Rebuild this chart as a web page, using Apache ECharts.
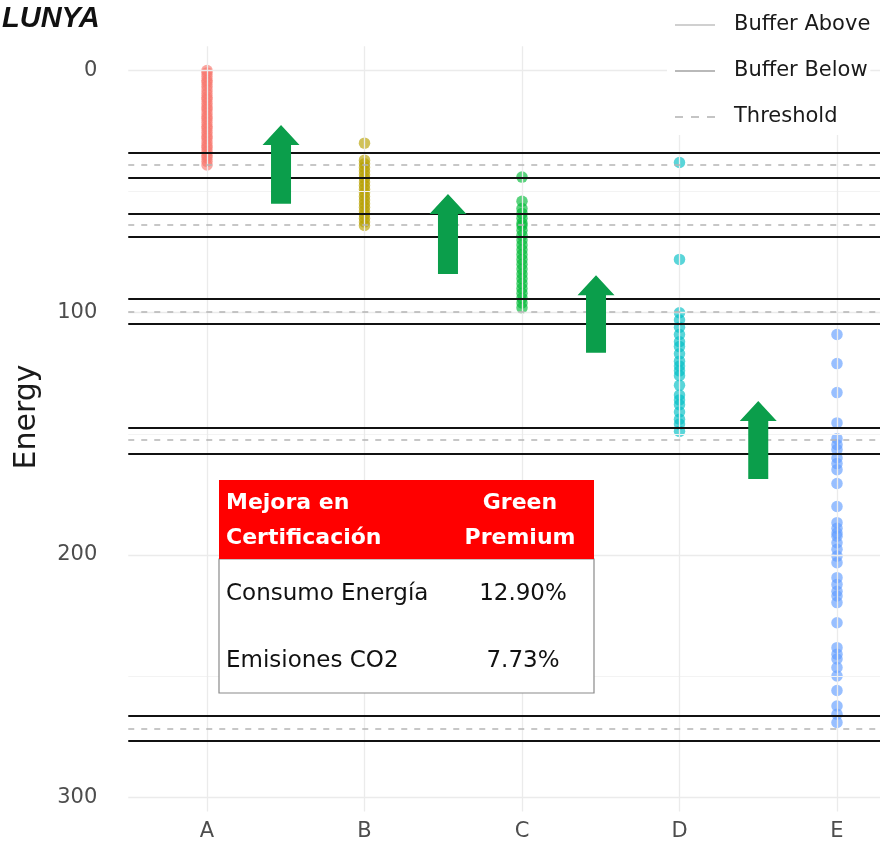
<!DOCTYPE html>
<html><head><meta charset="utf-8">
<script src="https://cdn.jsdelivr.net/npm/echarts@6/dist/echarts.min.js"></script>
<style>html,body{margin:0;padding:0;background:#fff;overflow:hidden}#c{width:880px;height:842px}</style>
</head><body><div id="c"></div>
<script>
// ---- data ----
const categories = ['A', 'B', 'C', 'D', 'E'];
const valuesA = [0, 1, 2.5, 4, 5, 6.5, 8, 9.5, 11, 12, 13.5, 15, 16, 17.5, 19, 20, 21.5, 23, 24, 25.5, 27, 28, 29.5, 31, 32, 33.5, 35, 36, 37.5, 39];
const valuesB = [30, 37, 38.5, 40, 41.5, 43, 44.5, 46, 47.5, 49, 50.5, 52, 53.5, 55, 56.5, 58, 59.5, 61, 62.5, 64];
const valuesC = [44, 54, 57, 59, 61, 63, 64, 66, 68, 70, 72, 74, 76, 78, 80, 82, 84, 86, 88, 90, 92, 94, 96, 98];
const valuesD = [38, 78, 100, 103, 106, 109, 112, 114, 117, 120, 122, 124, 126, 130, 134, 136, 138, 141, 144, 146, 149];
const valuesE = [109, 121, 133, 145.5, 152, 154.5, 156.5, 160, 162.3, 164.8, 170.5, 180, 186.7, 189, 191, 192.3, 195, 197.7, 200.5, 203.2, 209.4, 212.2, 215, 217, 219.7, 228, 238.3, 241, 243, 246.5, 250, 256, 262.4, 265.8, 269.2];
const seriesValues = [valuesA, valuesB, valuesC, valuesD, valuesE];
const pointColors = ['#F8766D', '#B79F00', '#00BA38', '#00BFC4', '#619CFF'];

const thresholds  = [39.0, 63.8, 99.6, 152.4, 271.7];
const bufferAbove = [33.8, 59.0, 94.1, 147.3, 266.5];
const bufferBelow = [44.1, 68.6, 104.4, 158.1, 276.9];

const yTickLabels = [0, 100, 200, 300];
const yMajorGrid = [0, 100, 200, 300];
const yMinorGrid = [50, 150, 250];

// arrows: position along category index, top / bottom energy value
const arrowPos    = [0.47, 1.53, 2.47, 3.5];
const arrowTop    = [22.5, 51, 84.5, 136.5];
const arrowBottom = [55, 84, 116.5, 168.7];

const titleText = 'LUNYA';
const tableHeader = [['Mejora en', 'Certificación'], ['Green', 'Premium']];
const tableRows = [['Consumo Energía', '12.90%'], ['Emisiones CO2', '7.73%']];

// ---- chart ----
const FONT = 'DejaVu Sans';
const chart = echarts.init(document.getElementById('c'), null, {renderer: 'canvas'});

const solidIcon = 'path://M0,0H40V2H0Z';
const dashIcon = 'path://M0,0H8V2H0Z M16,0H24V2H16Z M32,0H40V2H32Z';

const series = [];
// grid lines
series.push({
  type: 'scatter', data: [], silent: true, z: 0,
  markLine: {
    silent: true, symbol: 'none', label: {show: false}, animation: false,
    data: [
      ...yMajorGrid.map(v => ({yAxis: v, lineStyle: {color: '#ebebeb', width: 1.3, type: 'solid'}})),
      ...yMinorGrid.map(v => ({yAxis: v, lineStyle: {color: '#f3f3f3', width: 1, type: 'solid'}})),
      ...categories.map(c => ({xAxis: c, lineStyle: {color: '#ebebeb', width: 1.3, type: 'solid'}}))
    ]
  }
});
function refSeries(name, vals, lineStyle, legendColor) {
  return {
    name, type: 'scatter', data: [], z: 2,
    itemStyle: {color: legendColor},
    markLine: {
      silent: true, symbol: 'none', label: {show: false}, animation: false,
      lineStyle, data: vals.map(v => ({yAxis: v}))
    }
  };
}
series.push(refSeries('Buffer Above', bufferAbove, {color: '#111', width: 1.8, type: 'solid'}, '#c4c4c4'));
series.push(refSeries('Buffer Below', bufferBelow, {color: '#111', width: 1.8, type: 'solid'}, '#a8a8a8'));
series.push(refSeries('Threshold', thresholds, {color: '#b5b5b5', width: 1.5, type: [6, 7]}, '#b5b5b5'));

categories.forEach((c, i) => {
  series.push({
    type: 'scatter', z: 3, clip: false,
    symbolSize: 11.5,
    itemStyle: {color: pointColors[i], opacity: 0.65},
    data: seriesValues[i].map(v => [c, v])
  });
});

chart.setOption({
  animation: false,
  title: {
    text: titleText, left: -3, top: -1,
    textStyle: {fontSize: 29, fontStyle: 'italic', fontWeight: 'bold', fontFamily: 'Liberation Sans, Arial', color: '#111'}
  },
  legend: {
    orient: 'vertical', left: 667, top: 8, z: 50,
    backgroundColor: '#fff',
    padding: [5, 0, 6, 8],
    itemWidth: 40, itemHeight: 2, itemGap: 22,
    textStyle: {fontSize: 21, lineHeight: 24, color: '#1a1a1a', fontFamily: FONT, padding: [0, 0, 0, 14]},
    selectedMode: false,
    data: [
      {name: 'Buffer Above', icon: solidIcon},
      {name: 'Buffer Below', icon: solidIcon},
      {name: 'Threshold', icon: dashIcon}
    ]
  },
  grid: {left: 128.25, width: 787.5, top: 46.3, height: 765.3, containLabel: false, outerBoundsMode: 'none'},
  xAxis: {
    type: 'category', data: categories, boundaryGap: true,
    axisLine: {show: false}, axisTick: {show: false}, splitLine: {show: false},
    axisLabel: {fontSize: 21, color: '#4d4d4d', fontFamily: FONT, margin: 9}
  },
  yAxis: {
    type: 'value', inverse: true, min: -10, max: 306,
    name: 'Energy', nameLocation: 'middle', nameGap: 86, nameRotate: 90,
    nameTextStyle: {fontSize: 30, color: '#1a1a1a', fontFamily: FONT, padding: [0, 0, 0, 24]},
    axisLine: {show: false}, axisTick: {show: false}, splitLine: {show: false},
    axisLabel: {customValues: yTickLabels, fontSize: 21, color: '#4d4d4d', fontFamily: FONT, margin: 31}
  },
  series
});

// arrows and table as annotations
const gEls = [];
const catPx = categories.map(c => chart.convertToPixel({xAxisIndex: 0}, c));
arrowPos.forEach((p, i) => {
  const k = Math.floor(p);
  const cx = catPx[k] + (catPx[k + 1] - catPx[k]) * (p - k);
  const yt = chart.convertToPixel({yAxisIndex: 0}, arrowTop[i]);
  const yb = chart.convertToPixel({yAxisIndex: 0}, arrowBottom[i]);
  const hw = 18.5, sw = 10, hh = 20;
  gEls.push({
    type: 'polygon', z: 10,
    shape: {points: [[cx, yt], [cx + hw, yt + hh], [cx + sw, yt + hh], [cx + sw, yb], [cx - sw, yb], [cx - sw, yt + hh], [cx - hw, yt + hh]]},
    style: {fill: '#0B9E4B'}
  });
});
// table
const tx = 219, ty = 480, tw = 375, hh = 79, bh = 134, col2 = 520;
gEls.push({type: 'rect', z: 20, shape: {x: tx, y: ty + hh, width: tw, height: bh}, style: {fill: '#fff', stroke: '#8a8a8a', lineWidth: 1.2}});
gEls.push({type: 'rect', z: 21, shape: {x: tx, y: ty, width: tw, height: hh}, style: {fill: '#FF0000'}});
const hStyle = {fill: '#fff', fontSize: 22, fontWeight: 'bold', fontFamily: FONT, verticalAlign: 'middle'};
[503, 538].forEach((yy, r) => {
  gEls.push({type: 'text', z: 22, style: Object.assign({}, hStyle, {x: tx + 7, y: yy, text: tableHeader[0][r], align: 'left'})});
  gEls.push({type: 'text', z: 22, style: Object.assign({}, hStyle, {x: col2, y: yy, text: tableHeader[1][r], align: 'center'})});
});
const bStyle = {fill: '#111', fontSize: 23, fontFamily: FONT, verticalAlign: 'middle'};
[594, 661].forEach((yy, r) => {
  gEls.push({type: 'text', z: 22, style: Object.assign({}, bStyle, {x: tx + 7, y: yy, text: tableRows[r][0], align: 'left'})});
  gEls.push({type: 'text', z: 22, style: Object.assign({}, bStyle, {x: col2 + 3, y: yy, text: tableRows[r][1], align: 'center'})});
});
chart.setOption({graphic: {elements: gEls}});
</script>
</body></html>
